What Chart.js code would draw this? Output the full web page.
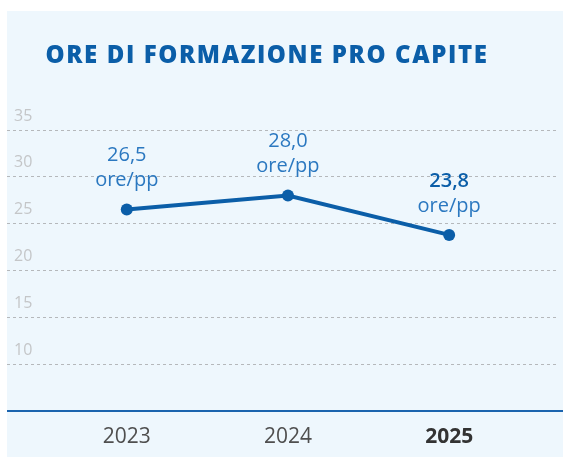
<!DOCTYPE html>
<html>
<head>
<meta charset="utf-8">
<script src="https://cdn.jsdelivr.net/npm/chart.js@4/dist/chart.umd.min.js"></script>
<style>
  html, body { margin: 0; padding: 0; background: #ffffff; }
  #wrap { position: relative; width: 563px; height: 457px; }
  canvas { display: block; }
</style>
</head>
<body>
<div id="wrap"><canvas id="c" width="563" height="457"></canvas></div>
<script>
// Anni e ore medie di formazione per dipendente
const years = ['2023', '2024', '2025'];
const hoursPerCapita = [26.5, 28.0, 23.8];
const valueLabels = ['26,5', '28,0', '23,8'];
const unitLabel = 'ore/pp';
const yTicks = [10, 15, 20, 25, 30, 35];
const chartTitle = 'ORE DI FORMAZIONE PRO CAPITE';

const FONT = "'Open Sans', 'DejaVu Sans', sans-serif";
const BLUE = '#0b5ea8';
const LABEL_BLUE = '#2b78c0';

// Pannello azzurro dietro al grafico
const panelBg = {
  id: 'panelBg',
  beforeDraw(chart) {
    const ctx = chart.ctx;
    ctx.save();
    ctx.fillStyle = '#eef7fd';
    ctx.fillRect(7, 11, chart.width - 7, chart.height - 11);
    ctx.restore();
  }
};

// Titolo, spaziato come nel layout grafico
const titlePlugin = {
  id: 'titlePlugin',
  afterDraw(chart) {
    const ctx = chart.ctx;
    ctx.save();
    ctx.fillStyle = BLUE;
    ctx.font = '800 24px ' + FONT;
    ctx.textAlign = 'center';
    ctx.textBaseline = 'middle';
    if ('letterSpacing' in ctx) ctx.letterSpacing = '1.6px';
    ctx.fillText(chartTitle, 267, 56);
    ctx.restore();
  }
};

// Etichette valore + unità sopra ciascun punto
const pointLabels = {
  id: 'pointLabels',
  afterDatasetsDraw(chart) {
    const ctx = chart.ctx;
    const meta = chart.getDatasetMeta(0);
    ctx.save();
    ctx.textAlign = 'center';
    ctx.textBaseline = 'middle';
    meta.data.forEach((pt, i) => {
      const last = i === meta.data.length - 1;
      ctx.fillStyle = last ? BLUE : LABEL_BLUE;
      ctx.font = (last ? '600 ' : '400 ') + '20px ' + FONT;
      ctx.fillText(valueLabels[i], pt.x, pt.y - 54);
      ctx.fillStyle = LABEL_BLUE;
      ctx.font = '400 20px ' + FONT;
      ctx.fillText(unitLabel, pt.x, pt.y - 29);
    });
    ctx.restore();
  }
};

// Linea di base orizzontale
const baseLine = {
  id: 'baseLine',
  afterDraw(chart) {
    const ctx = chart.ctx;
    const y = chart.scales.y.getPixelForValue(5);
    ctx.save();
    ctx.strokeStyle = '#1b64ae';
    ctx.lineWidth = 2;
    ctx.beginPath();
    ctx.moveTo(7, y);
    ctx.lineTo(chart.width, y);
    ctx.stroke();
    ctx.restore();
  }
};

new Chart(document.getElementById('c'), {
  type: 'line',
  data: {
    datasets: [{
      data: hoursPerCapita.map((v, i) => ({ x: i, y: v })),
      borderColor: BLUE,
      backgroundColor: BLUE,
      borderWidth: 4,
      pointRadius: 6,
      pointHoverRadius: 6,
      pointBackgroundColor: BLUE,
      pointBorderWidth: 0,
      tension: 0,
      clip: false
    }]
  },
  options: {
    responsive: false,
    animation: false,
    layout: { padding: { left: 7, right: 0, top: 130, bottom: 0 } },
    plugins: {
      legend: { display: false },
      tooltip: { enabled: false },
      title: { display: false }
    },
    scales: {
      x: {
        type: 'linear',
        min: -0.743,
        max: 2.669,
        afterBuildTicks(scale) {
          scale.ticks = years.map((_, i) => ({ value: i }));
        },
        afterFit(scale) { scale.height = 46; },
        grid: { display: false, drawTicks: false },
        border: { display: false },
        ticks: {
          padding: 13,
          color: (c) => c.index === years.length - 1 ? '#333333' : '#4f4f4f',
          font: (c) => ({ family: FONT, size: 21, weight: c.index === years.length - 1 ? '700' : '400' }),
          callback: (v) => years[v]
        }
      },
      y: {
        min: 5,
        max: 35,
        afterBuildTicks(scale) {
          scale.ticks = yTicks.map(v => ({ value: v }));
        },
        afterFit(scale) { scale.width = 0; },
        grid: {
          color: '#b5b8bb',
          lineWidth: 1,
          drawTicks: false
        },
        border: { display: false, dash: [3, 3] },
        ticks: {
          mirror: true,
          padding: 7,
          labelOffset: -14,
          color: '#c4c6c8',
          font: { family: FONT, size: 16 }
        }
      }
    }
  },
  plugins: [panelBg, titlePlugin, pointLabels, baseLine]
});
</script>
</body>
</html>
